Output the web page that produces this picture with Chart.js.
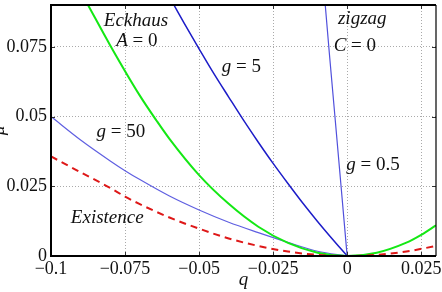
<!DOCTYPE html>
<html>
<head>
<meta charset="utf-8">
<script src="https://cdn.jsdelivr.net/npm/chart.js@4"></script>
<style>
  html, body { margin: 0; padding: 0; background: #fff; }
  canvas { display: block; }
</style>
</head>
<body>
<canvas id="stabChart" width="442" height="292"></canvas>
<script>
// curves (q on x, mu on y)
const qExist = [-0.1, -0.09, -0.08, -0.075, -0.07, -0.06, -0.05, -0.04, -0.03, -0.02, -0.01, 0, 0.01, 0.02, 0.03]
const muExist = [0.0357, 0.0300, 0.0244, 0.0213, 0.0186, 0.0138, 0.0098, 0.0063, 0.0036, 0.0016, 0.0004, 0, 0.0004, 0.0016, 0.0036]

const qEckhaus = [-0.0875, -0.08, -0.07, -0.0644, -0.06, -0.05, -0.04, -0.03, -0.02, -0.01, 0, 0.01, 0.02, 0.025, 0.03]
const muEckhaus = [0.09, 0.0755, 0.0575, 0.0486, 0.0420, 0.0290, 0.0187, 0.0105, 0.0047, 0.0012, 0, 0.0012, 0.0048, 0.0076, 0.0110]

const qG50 = [-0.1, -0.09, -0.08, -0.075, -0.07, -0.06, -0.05, -0.04, -0.03, -0.02, -0.01, 0]
const muG50 = [0.0500, 0.0416, 0.0341, 0.0306, 0.0274, 0.0215, 0.0165, 0.0121, 0.0084, 0.0049, 0.0017, 0]

const qG5 = [-0.0585, -0.055, -0.05, -0.045, -0.04, -0.035, -0.03, -0.025, -0.02, -0.015, -0.01, -0.005, 0]
const muG5 = [0.09, 0.0834, 0.0743, 0.0654, 0.0570, 0.0487, 0.0408, 0.0332, 0.0260, 0.0190, 0.0124, 0.0061, 0]

const qG05 = [-0.0074, -0.006, -0.004, -0.002, 0]
const muG05 = [0.09, 0.0725, 0.0485, 0.0243, 0]

const xTicks = [-0.1, -0.075, -0.05, -0.025, 0, 0.025]
const yTicks = [0, 0.025, 0.05, 0.075]

// text labels: [runs, q, mu]  runs are [text, italic]
const notes = [
  [[['Eckhaus', true]], -0.0713, 0.0843],
  [[['A', true], [' = 0', false]], -0.071, 0.0771],
  [[['g', true], [' = 5', false]], -0.0357, 0.0676],
  [[['zigzag', true]], 0.0051, 0.085],
  [[['C', true], [' = 0', false]], 0.0026, 0.0754],
  [[['g', true], [' = 50', false]], -0.0764, 0.0444],
  [[['g', true], [' = 0.5', false]], 0.0087, 0.0327],
  [[['Existence', true]], -0.081, 0.0138]
]

const serif = '"Liberation Serif", "Times New Roman", "DejaVu Serif", serif'

function pts(xs, ys) {
  return xs.map((x, i) => ({ x: x, y: ys[i] }))
}

function fmt(v) {
  let s = String(Math.round(v * 1000) / 1000)
  return s.replace('-', '\u2212')
}

function drawRuns(ctx, runs, cx, cy) {
  let widths = runs.map(r => {
    ctx.font = (r[1] ? 'italic ' : '') + '19px ' + serif
    return ctx.measureText(r[0]).width
  })
  let total = widths.reduce((a, b) => a + b, 0)
  let x = cx - total / 2
  runs.forEach((r, i) => {
    ctx.font = (r[1] ? 'italic ' : '') + '19px ' + serif
    ctx.fillText(r[0], x, cy)
    x += widths[i]
  })
}

const framePlugin = {
  id: 'frame',
  afterDraw(chart) {
    const ctx = chart.ctx
    const a = chart.chartArea
    const xs = chart.scales.x
    const ys = chart.scales.y
    ctx.save()

    // small inward ticks on all sides
    ctx.strokeStyle = '#333'
    ctx.lineWidth = 1
    ctx.beginPath()
    xTicks.forEach(t => {
      let px = Math.round(xs.getPixelForValue(t)) + 0.5
      ctx.moveTo(px, a.bottom); ctx.lineTo(px, a.bottom - 4)
      ctx.moveTo(px, a.top); ctx.lineTo(px, a.top + 4)
    })
    yTicks.forEach(t => {
      let py = Math.round(ys.getPixelForValue(t)) + 0.5
      ctx.moveTo(a.left, py); ctx.lineTo(a.left + 4, py)
      ctx.moveTo(a.right, py); ctx.lineTo(a.right - 4, py)
    })
    ctx.stroke()

    // box
    ctx.strokeStyle = '#000'
    ctx.lineWidth = 2
    ctx.beginPath()
    ctx.moveTo(a.right, a.top); ctx.lineTo(a.left, a.top); ctx.lineTo(a.left, a.bottom); ctx.lineTo(a.right, a.bottom)
    ctx.stroke()
    ctx.lineWidth = 1.2
    ctx.beginPath()
    ctx.moveTo(a.right, a.top); ctx.lineTo(a.right, a.bottom)
    ctx.stroke()

    // annotations
    ctx.fillStyle = '#111'
    ctx.textBaseline = 'middle'
    ctx.textAlign = 'left'
    notes.forEach(n => {
      drawRuns(ctx, n[0], xs.getPixelForValue(n[1]), ys.getPixelForValue(n[2]))
    })

    // axis titles
    ctx.textAlign = 'center'
    ctx.textBaseline = 'alphabetic'
    ctx.font = 'italic 19px ' + serif
    ctx.fillText('q', (a.left + a.right) / 2, 285)
    ctx.translate(4, (a.top + a.bottom) / 2)
    ctx.rotate(-Math.PI / 2)
    ctx.fillText('\u03bc', 0, 0)
    ctx.restore()
  }
}

const ctx = document.getElementById('stabChart').getContext('2d')
const stabChart = new Chart(ctx, {
  type: 'line',
  data: {
    datasets: [
      {
        label: 'Existence',
        data: pts(qExist, muExist),
        borderColor: 'rgb(222, 24, 24)',
        borderWidth: 2,
        borderDash: [7, 5],
        cubicInterpolationMode: 'monotone',
        order: 0
      },
      {
        label: 'Eckhaus',
        data: pts(qEckhaus, muEckhaus),
        borderColor: 'rgb(20, 232, 20)',
        borderWidth: 2,
        cubicInterpolationMode: 'monotone',
        order: 1
      },
      {
        label: 'g = 5',
        data: pts(qG5, muG5),
        borderColor: 'rgb(28, 28, 200)',
        borderWidth: 1.5,
        cubicInterpolationMode: 'monotone',
        order: 2
      },
      {
        label: 'g = 50',
        data: pts(qG50, muG50),
        borderColor: 'rgb(95, 95, 225)',
        borderWidth: 1.2,
        cubicInterpolationMode: 'monotone',
        order: 3
      },
      {
        label: 'g = 0.5',
        data: pts(qG05, muG05),
        borderColor: 'rgb(80, 80, 220)',
        borderWidth: 1.2,
        tension: 0,
        order: 4
      }
    ]
  },
  options: {
    responsive: false,
    animation: false,
    devicePixelRatio: 1,
    layout: { padding: { left: 0, right: 6, top: 5, bottom: 0 } },
    elements: { point: { radius: 0 } },
    plugins: {
      legend: { display: false },
      tooltip: { enabled: false }
    },
    scales: {
      x: {
        type: 'linear',
        min: -0.1,
        max: 0.03,
        ticks: {
          stepSize: 0.025,
          includeBounds: false,
          autoSkip: false,
          maxRotation: 0,
          padding: 2,
          color: '#111',
          font: { family: serif, size: 18 },
          callback: v => fmt(v)
        },
        grid: { color: '#aaa', lineWidth: 1, drawTicks: false },
        border: { display: false, dash: [1, 2] },
        afterFit: s => { s.height = 36; s.paddingLeft = 0; s.paddingRight = 0 }
      },
      y: {
        type: 'linear',
        min: 0,
        max: 0.09,
        ticks: {
          stepSize: 0.025,
          includeBounds: false,
          padding: 4,
          color: '#111',
          font: { family: serif, size: 18 },
          callback: v => fmt(v)
        },
        grid: { color: '#aaa', lineWidth: 1, drawTicks: false },
        border: { display: false, dash: [1, 2] },
        afterFit: s => { s.width = 51; s.paddingTop = 0; s.paddingBottom = 0 }
      }
    }
  },
  plugins: [framePlugin]
})
</script>
</body>
</html>
